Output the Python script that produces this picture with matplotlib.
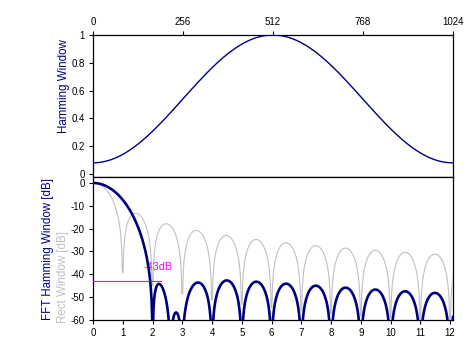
import numpy as np
import matplotlib
matplotlib.use("Agg")
import matplotlib.pyplot as plt

# window parameters (the plotted curves are this window and its spectrum)
n_samples = 1024
hamming_a0 = 0.54
hamming_a1 = 0.46
bins_per_unit = 45          # spectrum sample density (points per bin)
x_max_bins = 12.1

top_xticks = [0, 256, 512, 768, 1024]
top_yticks = [0, 0.2, 0.4, 0.6, 0.8, 1]
bot_xticks = list(range(0, 13))
bot_yticks = [0, -10, -20, -30, -40, -50, -60]

sidelobe_db = -43
sidelobe_bin = 2.29
sidelobe_text = "-43dB"

NAVY = "#000080"
GREY = "#c0c0c0"
MAGENTA = "#ff00ff"

plt.rcParams["font.family"] = ["Liberation Sans", "DejaVu Sans"]
plt.rcParams["axes.unicode_minus"] = False


def spectrum_db(window: np.ndarray, bins: np.ndarray) -> np.ndarray:
    """Normalised magnitude of the window's DTFT at fractional bins, in dB."""
    n = np.arange(len(window))
    kern = np.exp(-2j * np.pi * np.outer(bins, n) / len(window))
    mag = np.abs(kern @ window)
    mag = mag / np.abs(window.sum())
    return 20 * np.log10(np.maximum(mag, 1e-12))


n = np.arange(n_samples)
hamming = hamming_a0 - hamming_a1 * np.cos(2 * np.pi * n / (n_samples - 1))
rect = np.ones(n_samples)

bins = (np.arange(int(x_max_bins * bins_per_unit) + 1) + 0.5) / bins_per_unit
bins = np.concatenate([[0.0], bins])
ham_db = spectrum_db(hamming, bins)
rect_db = spectrum_db(rect, bins)

W, H = 471, 362
fig = plt.figure(figsize=(W / 100, H / 100), dpi=100)

left, right = 93 / W, 453 / W
ax1 = fig.add_axes([left, 1 - 177 / H, right - left, 142 / H])
ax2 = fig.add_axes([left, 1 - 320 / H, right - left, 143 / H])

for ax in (ax1, ax2):
    for sp in ax.spines.values():
        sp.set_linewidth(0.9)
    ax.tick_params(direction="out", length=3, width=0.8, labelsize=7, pad=3)

# top: window in time domain
ax1.plot(n, hamming, color=NAVY, lw=1.0, zorder=3)
ax1.set_xlim(0, 1024)
ax1.set_ylim(-0.022, 1.0)
ax1.xaxis.tick_top()
ax1.set_xticks(top_xticks)
ax1.set_yticks(top_yticks)
ax1.set_yticklabels(["0", "0.2", "0.4", "0.6", "0.8", "1"])

# bottom: spectra in dB
ax2.plot(bins, rect_db, color=GREY, lw=0.8, zorder=3)
ax2.plot(bins, ham_db, color=NAVY, lw=1.9, zorder=4)
ax2.plot([0, sidelobe_bin], [sidelobe_db, sidelobe_db], color=MAGENTA, lw=0.8, zorder=3)
ax2.text(1.71, -37, sidelobe_text, color=MAGENTA, fontsize=7.8, ha="left", va="center")
ax2.set_xlim(0, x_max_bins)
ax2.set_ylim(-60, 2.6)
ax2.set_xticks(bot_xticks)
ax2.set_yticks(bot_yticks)

fig.text(64 / W, 1 - 86 / H, "Hamming Window", color=NAVY, fontsize=8.3,
         rotation=90, ha="center", va="center")
fig.text(48 / W, 1 - 249 / H, "FFT Hamming Window [dB]", color=NAVY, fontsize=8.3,
         rotation=90, ha="center", va="center")
fig.text(63 / W, 1 - 277 / H, "Rect Window [dB]", color=GREY, fontsize=8.3,
         rotation=90, ha="center", va="center")

fig.savefig("out.png", dpi=100)
